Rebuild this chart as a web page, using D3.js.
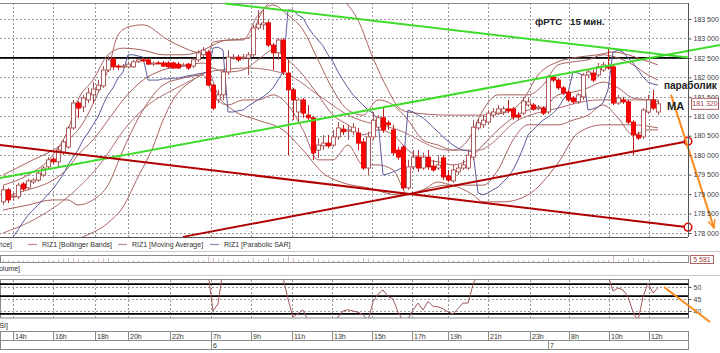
<!DOCTYPE html>
<html>
<head>
<meta charset="utf-8">
<script src="https://cdn.jsdelivr.net/npm/d3@7"></script>
<style>
body { margin: 0; background: #fff; }
svg { display: block; font-family: "Liberation Sans", Arial, sans-serif; }
</style>
</head>
<body>
<div id="chart"></div>
<script>
// 15-min candles, [open, high, low, close]
const ohlc = [
[178800,179210,178720,179110],[179110,179160,178770,178850],[178930,179030,178850,178950],[178930,179290,178870,179230],
[179260,179310,179080,179130],[179160,179390,179110,179340],[179310,179410,179260,179360],[179360,179590,179310,179540],
[179490,179720,179440,179670],[179700,179950,179650,179880],[179900,179950,179770,179830],[179830,180240,179670,180130],
[180080,180390,180000,180340],[180210,180750,180160,180700],[180700,181420,180650,181340],[181340,181390,180960,181210],
[181240,181550,181110,181470],[181420,181730,181340,181600],[181550,181880,181320,181700],[181680,181930,181620,181800],
[181780,182290,181730,182190],[182190,182550,182140,182450],[182470,182520,182190,182270],[182290,182340,182190,182270],
[182270,182340,182240,182290],[182270,182400,182240,182340],[182270,182450,182240,182400],[182400,182500,182370,182450],
[182450,182500,182400,182440],[182450,182500,182320,182340],[182340,182400,182290,182370],[182370,182420,182340,182360],
[182370,182420,182270,182290],[182370,182420,182240,182270],[182370,182400,182220,182240],[182340,182400,182220,182240],
[182290,182370,182270,182320],[182340,182370,182190,182240],[182290,182500,182240,182450],[182450,182700,182400,182630],
[182580,182780,182520,182700],[182650,182700,181780,181800],[181800,181830,181160,181210],[181420,181680,181340,181550],
[181550,182190,181420,182140],[182140,182700,182060,182520],[182500,182600,182450,182520],[182520,182580,182400,182450],
[182500,182600,182450,182520],[182500,182650,182060,182580],[182580,183350,182520,183270],[183270,183730,183220,183370],
[183350,183730,183220,183400],[183400,183470,182780,182830],[182830,182880,182190,182630],[182630,183010,182450,182960],
[182960,183010,182060,182140],[182110,182450,180000,181680],[181680,181730,180900,181420],[181110,181470,180850,181420],
[181420,181470,180960,181080],[181030,181290,180900,180960],[180960,181010,179880,180060],[180130,180440,179930,180260],
[180240,180520,180130,180310],[180310,180520,180180,180240],[180260,180650,180210,180470],[180470,180850,180390,180700],
[180670,180780,180520,180600],[180620,180780,180390,180650],[180600,180830,180520,180720],[180570,180700,180130,180310],
[180340,180440,179620,179670],[179670,180600,179490,180470],[180470,181110,180390,180900],[180720,181030,180650,180960],
[180960,181210,180570,180650],[180830,180900,180650,180780],[180650,180780,180000,180060],[180130,180210,179880,179950],
[180210,180260,179110,179160],[179160,179880,179110,179700],[179700,180130,179620,179950],[179950,180130,179570,179670],
[179670,180060,179620,179950],[179950,180130,179620,179700],[179720,179880,179570,179620],[179670,180000,179620,179750],
[179930,180000,179360,179440],[179470,179620,179310,179360],[179340,179750,179290,179620],[179570,179750,179490,179670],
[179670,179880,179620,179750],[179670,180130,179620,180000],[179950,180900,179880,180720],[180700,180960,180650,180830],
[180780,181030,180700,180900],[180850,181160,180780,181080],[181030,181210,180960,181110],[181080,181290,181030,181190],
[181110,181260,181030,181190],[181190,181420,181080,181140],[181190,181240,180900,180980],[181030,181110,180930,180980],
[181080,181500,181030,181390],[181290,181470,181240,181370],[181290,181340,181140,181190],[181210,181290,181160,181240],
[181210,181260,181030,181080],[181110,182060,181060,182010],[182010,182060,181880,181930],[181930,181980,181680,181730],
[181730,181780,181550,181600],[181620,181680,181370,181420],[181470,181520,181320,181370],[181370,181600,181320,181550],
[181500,182110,181420,182060],[182060,182190,181980,182140],[182110,182190,181880,181930],[182060,182370,182010,182270],
[182190,182400,182140,182320],[182270,182750,182190,182260],[182270,182320,181290,181340],[181340,181550,181290,181470],
[181420,181500,181320,181370],[181370,181420,180800,180850],[180850,180900,180000,180520],[180520,180600,180390,180440],
[180470,181210,180420,181160],[181110,181550,181060,181420],[181420,181680,181160,181210],[181110,181420,181030,181320]
];

const volume = [
6000,4000,3000,5000,4000,3000,3000,4000,5000,6000,
8000,9000,12000,14000,16000,10000,9000,8000,9000,10000,14000,
12000,8000,5000,3000,3000,4000,3000,3000,2000,2000,2000,2000,3000,2000,2000,3000,4000,5000,6000,5000,
20000,14000,10000,12000,9000,5000,4000,4000,6000,12000,10000,8000,12000,9000,8000,14000,22000,12000,10000,9000,
8000,15000,9000,7000,6000,6000,8000,5000,5000,5000,7000,12000,12000,9000,7000,8000,5000,9000,6000,14000,
10000,8000,6000,5000,6000,5000,4000,7000,5000,6000,4000,3000,5000,11000,8000,6000,6000,5000,4000,4000,
5000,6000,4000,7000,4000,4000,3000,4000,12000,8000,7000,6000,6000,5000,6000,9000,6000,6000,7000,6000,9000,22000,10000,7000,12000,14000,8000,12000,9000,7000,5581
];

const rsi = [
62,60,60,62,61,63,63,65,66,68,66,68,70,72,76,72,73,74,74,75,
77,78,74,72,72,73,74,74,73,70,70,69,66,64,62,61,62,60,64,67,
68,56,40,43,57,60,61,60,61,62,66,67,67,60,58,60,54,45,37.5,39,
40.5,36,30,33,34,33,35,37.5,40,40.5,40,39.5,38.5,36,43.8,47,48.8,46,45,39.6,
36,36.5,40.4,43.3,40.4,44,42,41.7,41,39.6,38.8,41,43.3,43.3,51,56,57,59,60,61,
61,60,57,56,62,61,59,59,57,66,64,60,58,56,55,57,62,63,60,62,
63,55,48.3,49.6,48.8,45.8,39.6,36,45.8,51.7,47.5,49.6
];

const sar = [
177560,177740,177900,178080,178280,178460,178590,178720,178850,179000,
179130,179310,179490,179750,179950,180130,180390,180570,180780,180980,
181290,181550,181730,181980,182140,182580,182580,182550,182520,181930,
181930,181930,181960,181960,181980,181980,182010,182040,182060,182090,
182110,182140,182750,182780,182700,181110,181110,181140,181160,181260,
181340,181420,181500,181600,181730,181930,182140,183730,183730,183600,
183530,183290,183110,182960,182810,182580,182400,182140,181930,181730,
181550,181420,181290,181160,181080,180900,179490,179520,179570,179620,
179700,181160,181110,181030,180960,180850,180720,180600,180470,180360,
180260,180180,180130,180110,180080,179030,178980,179030,179110,179180,
179310,179440,179620,179880,180180,180520,180650,180780,180900,180980,
181080,181210,181420,181600,182140,182110,182060,181160,181190,181240,
181340,181680,182650,182700,182650,182500,182370,182190,182010,181880,
181830,181800
];

// Bollinger Bands (inner), read at these candle indices
const bandIdx = [0,5,10,13,15,18,21,24,28,32,36,40,42,45,48,51,54,57,60,63,66,69,72,75,78,81,84,87,90,93,96,99,102,105,108,111,114,117,120,123,126,129,131];
const bbUpper = [179230,179490,180010,180650,181420,181930,182580,182750,182700,182580,182580,182700,182830,182960,182960,183600,183860,183600,183220,182450,181680,181160,181030,181420,181290,180900,180390,180260,180130,180390,181160,181550,181550,181550,181800,182320,182400,182450,182580,182500,182320,182060,181930];
const bbMid = [178930,179110,179360,179670,180010,180390,180900,181420,181930,182190,182290,182370,182240,182140,182190,182450,182700,182450,182060,181550,181030,180780,180520,180650,180520,180130,179880,179830,179750,179880,180260,180650,180960,181160,181210,181550,181620,181730,181880,181730,181470,181420,181370];
const bbLower = [178590,178720,178850,178850,178720,178850,179230,180130,181160,181800,181980,182060,181550,181290,181420,181420,181550,181290,180650,179880,179880,180260,179750,179750,179620,178980,179110,179310,179230,179230,179230,179620,180390,180780,180780,180780,180900,181030,181290,180960,180520,180650,180650];

// wide envelope and moving average, read at these candle indices
const outerUpIdx = [0,6,10,13,16,19,21,23,25,28,33,39,41,42,49,52,57,63,68,71,74,77,79,81,89,95,100,104,107,111,115,119,122,125,128,131];
const outerUpper = [179490,179880,180130,180390,180830,181600,182190,183090,183290,183350,182960,182630,182580,182910,183010,183730,184190,184300,183990,183470,182500,181680,181240,181110,181030,181030,181080,181420,182060,182400,182520,182580,182650,182580,182450,182320];
const outerLowIdx = [0,8,16,21,24,27,30,32,34,38,41,43,46,51,56,60,64,68,73,79,89,94,96,100,105,111,115,120,126,131];
const outerLower = [177310,177560,177900,178260,178670,179440,180210,180900,181420,181930,182140,181550,181160,180900,180650,180130,179540,179290,179160,178980,179230,178980,178800,178800,178980,179800,180570,180780,180780,180700];
const maIdx = [0,6,13,19,25,29,34,39,41,49,57,63,69,79,89,95,103,111,119,127,131];
const maLine = [178000,178330,178930,179700,180780,181290,181680,182010,182140,182240,182060,181550,181030,180650,180130,180130,180900,181210,181420,181420,181420];

const priceTicks = [178000,178500,179000,179500,180000,180500,181000,181500,182000,182500,183000,183500];
const hourLabels = ['14h','16h','18h','20h','22h','7h','9h','11h','13h','15h','17h','19h','21h','23h','8h','10h','12h'];
const hourPos = [2,10,18.4,25,33.4,41.6,49.6,57.8,65.8,73.8,81.8,89,97,105.4,113.2,121.2,129.2];
const dayLabels = ['6','7'];
const dayPos = [41.6,109];
const rsiTicks = [50,45,40];
const rsiLevels = [51.2,46.2,38.8];

// drawn annotations: [candle index, price]
const greenLines = [[[44.4,183900],[137,182510]], [[-0.6,179410],[143.4,182830]]];
const redLines = [[[-0.6,180260],[137,178150]], [[36,177900],[137,180360]]];
const levelLine = 182500;
const priceArrow = [[133.6,181550],[142.2,178130]];
const rsiArrow = [[132.2,50],[141.4,35.4]];
const lastPrice = 181320;
const lastVolume = 5581;

const W = 720, H = 353;
const plotR = 688;

const x = d3.scaleLinear().domain([-0.6, 137]).range([0, plotR]);
const y = d3.scaleLinear().domain([178000, 183500]).range([233, 19]);
const ry = d3.scaleLinear().domain([50, 40]).range([287, 311]);
const vy = d3.scaleLinear().domain([0, 25000]).range([261.5, 255.5]);

const fmt = d => d3.format(',')(d).replace(',', ' ');

const svg = d3.select('#chart').append('svg')
    .attr('width', W).attr('height', H);

const defs = svg.append('defs');
defs.append('clipPath').attr('id', 'clipMain')
    .append('rect').attr('x', 0).attr('y', 3).attr('width', plotR).attr('height', 234);
defs.append('clipPath').attr('id', 'clipRsi')
    .append('rect').attr('x', 0).attr('y', 279).attr('width', plotR).attr('height', 39);
defs.append('marker').attr('id', 'arrow')
    .attr('viewBox', '0 0 10 10').attr('refX', 9).attr('refY', 5)
    .attr('markerUnits', 'userSpaceOnUse')
    .attr('markerWidth', 9).attr('markerHeight', 9).attr('orient', 'auto')
    .append('path').attr('d', 'M0,1 L9,5 L0,9')
    .attr('fill', 'none').attr('stroke', '#ff8a1c').attr('stroke-width', 1.6);

const gridCol = '#9a9a9a';
const frameCol = '#8a8a8a';

// ---------- main price panel ----------
const main = svg.append('g');

main.selectAll('.hgrid').data(priceTicks).join('line')
    .attr('x1', 0).attr('x2', plotR)
    .attr('y1', d => Math.round(y(d)) + 0.5).attr('y2', d => Math.round(y(d)) + 0.5)
    .attr('stroke', gridCol).attr('stroke-dasharray', '2,2');

main.selectAll('.vgrid').data(hourPos).join('line')
    .attr('x1', d => Math.round(x(d)) + 0.5).attr('x2', d => Math.round(x(d)) + 0.5)
    .attr('y1', 3).attr('y2', 237)
    .attr('stroke', gridCol).attr('stroke-dasharray', '2,2');

main.append('line')
    .attr('x1', 0).attr('x2', plotR).attr('y1', 3.5).attr('y2', 3.5).attr('stroke', frameCol);
main.append('line')
    .attr('x1', 0).attr('x2', plotR).attr('y1', 237.5).attr('y2', 237.5).attr('stroke', '#555');

// level line
main.append('line')
    .attr('x1', 0).attr('x2', plotR)
    .attr('y1', y(levelLine)).attr('y2', y(levelLine))
    .attr('stroke', '#000').attr('stroke-width', 1.6);

const inner = main.append('g').attr('clip-path', 'url(#clipMain)');

function bandLine(idx) {
    return d3.line().x((d, i) => x(idx[i])).y(d => y(d)).curve(d3.curveMonotoneX);
}

const bandCol = '#a8625e';
inner.append('path').datum(outerUpper).attr('d', bandLine(outerUpIdx))
    .attr('fill', 'none').attr('stroke', bandCol).attr('stroke-width', 1);
inner.append('path').datum(outerLower).attr('d', bandLine(outerLowIdx))
    .attr('fill', 'none').attr('stroke', bandCol).attr('stroke-width', 1);
inner.append('path').datum(maLine).attr('d', bandLine(maIdx))
    .attr('fill', 'none').attr('stroke', '#b07070').attr('stroke-width', 1);
[bbUpper, bbMid, bbLower].forEach(s => {
    inner.append('path').datum(s).attr('d', bandLine(bandIdx))
        .attr('fill', 'none').attr('stroke', bandCol).attr('stroke-width', 1);
});

// parabolic SAR drawn as a line
inner.append('path').datum(sar)
    .attr('d', d3.line().x((d, i) => x(i)).y(d => y(d)))
    .attr('fill', 'none').attr('stroke', '#5c5c9c').attr('stroke-width', 1);

// candles
const candle = inner.selectAll('.candle').data(ohlc).join('g');
candle.append('line')
    .attr('x1', (d, i) => Math.round(x(i)) + 0.5).attr('x2', (d, i) => Math.round(x(i)) + 0.5)
    .attr('y1', d => y(d[1])).attr('y2', d => y(d[2]))
    .attr('stroke', d => d[3] < d[0] ? '#c02020' : '#a85050').attr('stroke-width', 1);
candle.append('rect')
    .attr('x', (d, i) => Math.round(x(i)) - 1.5)
    .attr('width', 4)
    .attr('y', d => y(Math.max(d[0], d[3])))
    .attr('height', d => Math.max(1, Math.abs(y(d[0]) - y(d[3]))))
    .attr('fill', d => d[3] < d[0] ? '#ff0000' : '#ffffff')
    .attr('stroke', d => d[3] < d[0] ? '#e00000' : '#a85050')
    .attr('stroke-width', 0.9);

// trend lines
const tl = d3.line().x(d => x(d[0])).y(d => y(d[1]));
greenLines.forEach(p => {
    main.append('path').attr('d', tl(p))
        .attr('stroke', '#3edc2a').attr('stroke-width', 2).attr('fill', 'none');
});
redLines.forEach(p => {
    main.append('path').attr('d', tl(p))
        .attr('stroke', '#b00000').attr('stroke-width', 2).attr('fill', 'none');
    main.append('circle')
        .attr('cx', x(p[1][0])).attr('cy', y(p[1][1])).attr('r', 3.8)
        .attr('fill', '#fff').attr('stroke', '#e00000').attr('stroke-width', 1.5);
});

main.append('path').attr('d', tl(priceArrow))
    .attr('stroke', '#ff8a1c').attr('stroke-width', 2).attr('fill', 'none')
    .attr('marker-end', 'url(#arrow)');

// price axis
const yAxis = d3.axisRight(y).tickValues(priceTicks).tickSize(3).tickFormat(fmt);
const ya = main.append('g').attr('transform', `translate(${plotR + 0.5},0)`).call(yAxis);
ya.select('.domain').attr('stroke', '#555').attr('d', 'M0,3V237');
ya.selectAll('.tick line').attr('stroke', '#555');
ya.selectAll('.tick text').attr('x', 5).attr('font-size', 7).attr('fill', '#404040')
    .attr('font-family', '"Liberation Sans", Arial, sans-serif');

// last price box
main.append('rect').attr('x', 691.5).attr('y', y(lastPrice) - 5.5).attr('width', 27).attr('height', 11)
    .attr('fill', '#fff').attr('stroke', '#b06060');
main.append('text').attr('x', 705).attr('y', y(lastPrice) + 2.5).attr('text-anchor', 'middle')
    .attr('font-size', 7).attr('fill', '#a04040').text(fmt(lastPrice));

// captions
main.append('text').attr('x', 535).attr('y', 25).attr('font-size', 9.5).attr('font-weight', 'bold')
    .attr('fill', '#202020').attr('xml:space', 'preserve').text('фРТС   15 мин.');
main.append('text').attr('x', 664).attr('y', 89).attr('font-size', 10).attr('font-weight', 'bold')
    .attr('fill', '#202020').text('параболик');
main.append('text').attr('x', 667).attr('y', 110).attr('font-size', 11).attr('font-weight', 'bold')
    .attr('fill', '#202020').text('MA');

// ---------- legend row ----------
const leg = svg.append('g').attr('font-size', 7).attr('fill', '#303030');
leg.append('text').attr('x', 12).attr('y', 247).attr('text-anchor', 'end').text('RIZ1 [Price]');
[[28, 'RIZ1 [Bollinger Bands]', '#c08a8a'], [118, 'RIZ1 [Moving Average]', '#c08a8a'], [210, 'RIZ1 [Parabolic SAR]', '#8a8ab8']]
    .forEach(e => {
        leg.append('line').attr('x1', e[0]).attr('x2', e[0] + 9).attr('y1', 244.5).attr('y2', 244.5)
            .attr('stroke', e[2]).attr('stroke-width', 1.2);
        leg.append('text').attr('x', e[0] + 14).attr('y', 247).text(e[1]);
    });

svg.append('line').attr('x1', 0).attr('x2', W).attr('y1', 251.5).attr('y2', 251.5).attr('stroke', '#c8c8c8');

// ---------- volume panel ----------
svg.append('rect').attr('x', 0.5).attr('y', 255.5).attr('width', plotR).attr('height', 7)
    .attr('fill', 'none').attr('stroke', frameCol);
svg.append('g').selectAll('line').data(volume).join('line')
    .attr('x1', (d, i) => Math.round(x(i)) + 0.5).attr('x2', (d, i) => Math.round(x(i)) + 0.5)
    .attr('y1', 261.5).attr('y2', d => vy(d))
    .attr('stroke', '#b08080').attr('stroke-width', 1).attr('stroke-dasharray', '1,1');
svg.append('rect').attr('x', 690.5).attr('y', 255.5).attr('width', 23).attr('height', 8)
    .attr('fill', '#fff').attr('stroke', '#b06060');
svg.append('text').attr('x', 702).attr('y', 262).attr('text-anchor', 'middle')
    .attr('font-size', 7).attr('fill', '#a04040').text(fmt(lastVolume));
svg.append('text').attr('x', 20).attr('y', 271).attr('text-anchor', 'end')
    .attr('font-size', 7).attr('fill', '#303030').text('[Volume]');
svg.append('line').attr('x1', 0).attr('x2', W).attr('y1', 275.5).attr('y2', 275.5).attr('stroke', '#c8c8c8');

// ---------- RSI panel ----------
const rp = svg.append('g');
rp.append('rect').attr('x', 0.5).attr('y', 279.5).attr('width', plotR).attr('height', 38.5)
    .attr('fill', 'none').attr('stroke', frameCol);
rp.selectAll('.rg').data(rsiTicks).join('line')
    .attr('x1', 0).attr('x2', plotR)
    .attr('y1', d => Math.round(ry(d)) + 0.5).attr('y2', d => Math.round(ry(d)) + 0.5)
    .attr('stroke', gridCol).attr('stroke-dasharray', '2,2');
rp.selectAll('.rv').data(hourPos).join('line')
    .attr('x1', d => Math.round(x(d)) + 0.5).attr('x2', d => Math.round(x(d)) + 0.5)
    .attr('y1', 280).attr('y2', 318)
    .attr('stroke', gridCol).attr('stroke-dasharray', '2,2');
rp.selectAll('.rl').data(rsiLevels).join('line')
    .attr('x1', 0).attr('x2', plotR)
    .attr('y1', d => ry(d)).attr('y2', d => ry(d))
    .attr('stroke', '#000').attr('stroke-width', 1.6);
rp.append('g').attr('clip-path', 'url(#clipRsi)').append('path').datum(rsi)
    .attr('d', d3.line().x((d, i) => x(i)).y(d => ry(d)))
    .attr('fill', 'none').attr('stroke', '#a05a5a').attr('stroke-width', 1);
const ra = rp.append('g').attr('transform', `translate(${plotR + 0.5},0)`)
    .call(d3.axisRight(ry).tickValues(rsiTicks).tickSize(3));
ra.select('.domain').attr('stroke', '#555').attr('d', 'M0,279V318');
ra.selectAll('.tick line').attr('stroke', '#555');
ra.selectAll('.tick text').attr('x', 5).attr('font-size', 7).attr('fill', '#404040')
    .attr('font-family', '"Liberation Sans", Arial, sans-serif');
rp.append('path').attr('d', d3.line().x(d => x(d[0])).y(d => ry(d[1]))(rsiArrow))
    .attr('stroke', '#ff8a1c').attr('stroke-width', 2).attr('fill', 'none');
svg.append('text').attr('x', 8).attr('y', 328).attr('text-anchor', 'end')
    .attr('font-size', 7).attr('fill', '#303030').text('[RSI]');

// ---------- time axis ----------
const ta = svg.append('g');
ta.append('rect').attr('x', 0.5).attr('y', 331.5).attr('width', plotR).attr('height', 18)
    .attr('fill', '#fff').attr('stroke', frameCol);
ta.append('line').attr('x1', 0).attr('x2', plotR).attr('y1', 340.5).attr('y2', 340.5).attr('stroke', frameCol);
ta.selectAll('.ht').data(hourPos).join('line')
    .attr('x1', d => Math.round(x(d)) + 0.5).attr('x2', d => Math.round(x(d)) + 0.5)
    .attr('y1', 331).attr('y2', 340).attr('stroke', frameCol);
ta.selectAll('.hl').data(hourLabels).join('text')
    .attr('x', (d, i) => Math.round(x(hourPos[i])) + 2).attr('y', 338.5)
    .attr('font-size', 7).attr('fill', '#303030').text(d => d);
ta.selectAll('.dt').data(dayPos).join('line')
    .attr('x1', d => Math.round(x(d)) + 0.5).attr('x2', d => Math.round(x(d)) + 0.5)
    .attr('y1', 340).attr('y2', 350).attr('stroke', frameCol);
ta.selectAll('.dl').data(dayLabels).join('text')
    .attr('x', (d, i) => Math.round(x(dayPos[i])) + 2).attr('y', 348)
    .attr('font-size', 7).attr('fill', '#303030').text(d => d);
</script>
</body>
</html>
